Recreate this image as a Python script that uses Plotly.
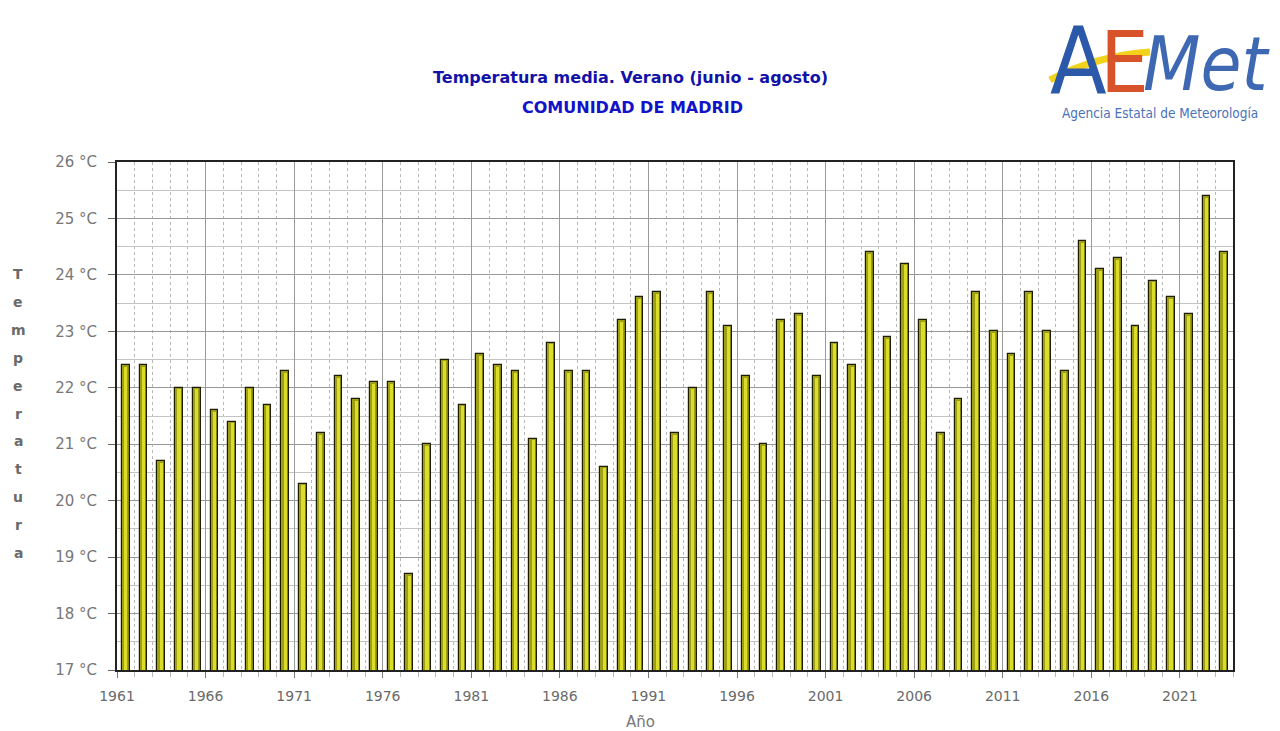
import plotly.graph_objects as go

# Summer (Jun-Aug) mean temperature, Comunidad de Madrid
years = list(range(1961, 2024))
temps = [
    22.4, 22.4, 20.7, 22.0, 22.0, 21.6, 21.4, 22.0, 21.7, 22.3,
    20.3, 21.2, 22.2, 21.8, 22.1, 22.1, 18.7, 21.0, 22.5, 21.7,
    22.6, 22.4, 22.3, 21.1, 22.8, 22.3, 22.3, 20.6, 23.2, 23.6,
    23.7, 21.2, 22.0, 23.7, 23.1, 22.2, 21.0, 23.2, 23.3, 22.2,
    22.8, 22.4, 24.4, 22.9, 24.2, 23.2, 21.2, 21.8, 23.7, 23.0,
    22.6, 23.7, 23.0, 22.3, 24.6, 24.1, 24.3, 23.1, 23.9, 23.6,
    23.3, 25.4, 24.4,
]
y_ticks = list(range(17, 27))
y_tick_labels = [f"{t} °C" for t in y_ticks]
x_ticks = list(range(1961, 2022, 5))
y_label = "Temperatura"

# page is drawn with an 8px body margin, so the figure is offset by that
OFF = 8
W, H = 1280 - OFF, 731 - OFF
PL, PR, PT, PB = 117, 1233, 162, 670   # plot area in page pixels
pw, ph = PR - PL, PB - PT


def px(x):
    return (x - PL) / pw


def py(y):
    return (PB - y) / ph


x_pos = [y + 0.5 for y in years]

fig = go.Figure()
# outer olive bar with dark outline
fig.add_trace(go.Bar(
    x=x_pos, y=temps, width=0.44,
    marker=dict(color="#9f9f16", line=dict(color="#1c1c00", width=1.2)),
    hovertemplate="%{x:.0f}: %{y:.1f} °C<extra></extra>",
))
# lighter centre stripe for the cylinder look
fig.add_trace(go.Bar(
    x=x_pos, y=[t - 0.03 for t in temps], width=0.17,
    marker=dict(color="#dcdc2a", line=dict(width=0)),
    hoverinfo="skip",
))

fig.update_layout(
    width=W, height=H,
    margin=dict(l=PL - OFF, r=1280 - PR, t=PT - OFF, b=731 - PB),
    paper_bgcolor="white", plot_bgcolor="white",
    barmode="overlay", showlegend=False, bargap=0,
    font=dict(family="DejaVu Sans", color="#666666"),
    xaxis=dict(
        range=[1961, 2024], automargin=False,
        tickvals=x_ticks, ticktext=[str(x) for x in x_ticks],
        tickfont=dict(size=14, color="#6a6a6a"),
        ticks="outside", ticklen=6, tickcolor="#777777",
        ticklabelstandoff=6,
        showgrid=True, gridcolor="#9a9a9a", gridwidth=1,
        minor=dict(dtick=1, tick0=1961, showgrid=True, gridcolor="#b8b8b8",
                   griddash="dot", ticks="outside", ticklen=5, tickcolor="#b8b8b8"),
        showline=True, linecolor="#222222", linewidth=2, mirror=True,
        zeroline=False,
    ),
    yaxis=dict(
        range=[17, 26], automargin=False,
        tickvals=y_ticks, ticktext=y_tick_labels,
        tickfont=dict(size=15, color="#777777"),
        ticks="outside", ticklen=7, tickcolor="#666666",
        ticklabelstandoff=8,
        showgrid=True, gridcolor="#999999", gridwidth=1,
        minor=dict(dtick=0.5, showgrid=True, gridcolor="#c4c4c4", gridwidth=1),
        showline=True, linecolor="#222222", linewidth=2, mirror=True,
        zeroline=False,
    ),
)


def note(x, y, text, **font):
    fig.add_annotation(
        x=px(x), y=py(y), xref="paper", yref="paper", showarrow=False,
        xanchor="center", yanchor="middle", text=text, font=font,
    )


# title
note(630, 77, "<b>Temperatura media. Verano (junio - agosto)</b>",
     family="DejaVu Sans", size=16, color="#1212a8")
note(632, 108, "<b>COMUNIDAD DE MADRID</b>",
     family="DejaVu Sans", size=16, color="#1212c8")

# x-axis title
note(640, 722, "Año", family="DejaVu Sans", size=15, color="#777777")

# vertical stacked y-axis label, one letter per line
for i, ch in enumerate(y_label):
    note(18, 274 + i * 27.9, f"<b>{ch}</b>",
         family="DejaVu Sans", size=14, color="#6a6a6a")

# AEMet logo (text approximation)
note(1078, 62, "A", family="DejaVu Sans Condensed", size=92, color="#2b58a8")
note(1124, 62, "E", family="DejaVu Sans Condensed", size=86, color="#d8532a")
note(1206, 64, "<i>Met</i>", family="DejaVu Sans Condensed", size=74, color="#3e68b2")
fig.add_shape(
    type="path", xref="paper", yref="paper",
    path=f"M {px(1050)},{py(80)} Q {px(1095)},{py(56)} {px(1150)},{py(52)}",
    line=dict(color="#f2d21a", width=7),
)
note(1160, 113, "Agencia Estatal de Meteorología",
     family="DejaVu Sans Condensed", size=13.5, color="#4a72b8")

fig.write_html("out.html")
